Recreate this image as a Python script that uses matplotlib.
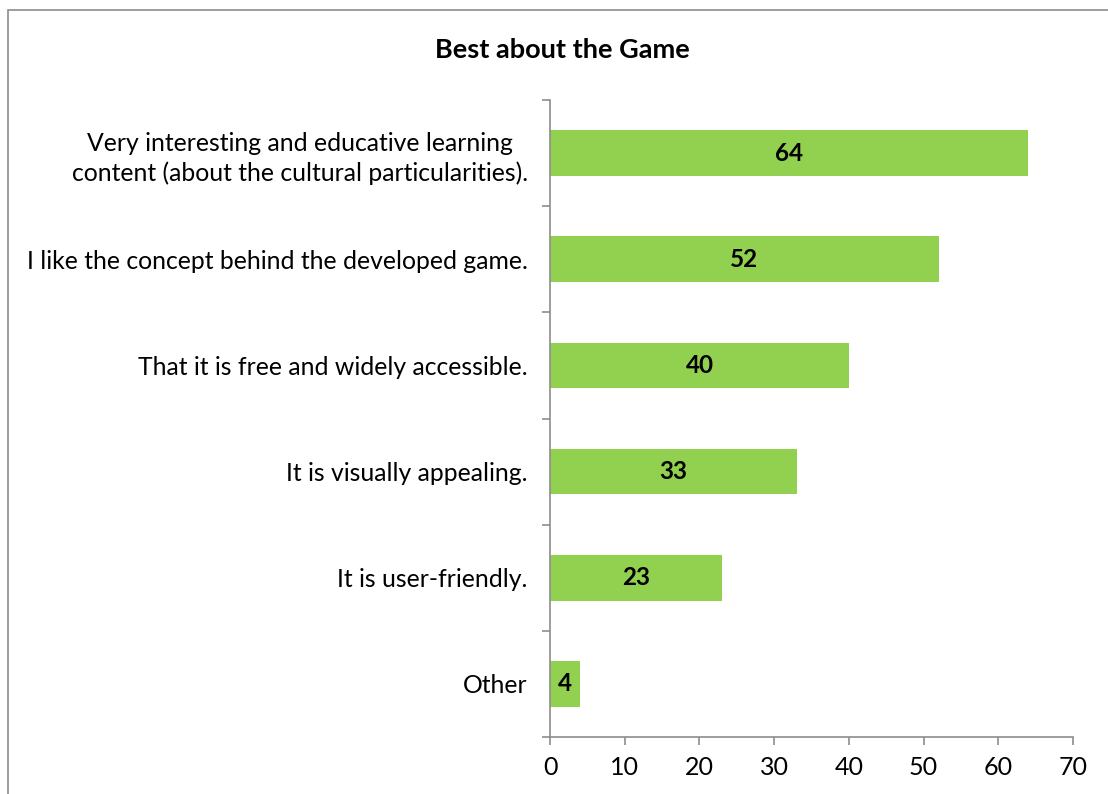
import numpy as np
import matplotlib.pyplot as plt
from matplotlib.patches import Rectangle

# Данные
categories = [
    'Very interesting and educative learning\ncontent (about the cultural particularities).',
    'I like the concept behind the developed game.',
    'That it is free and widely accessible.',
    'It is visually appealing.',
    'It is user-friendly.',
    'Other',
]
values = [64, 52, 40, 33, 23, 4]
x_ticks = [0, 10, 20, 30, 40, 50, 60, 70]

plt.rcParams['font.family'] = ['Lato', 'DejaVu Sans']

fig = plt.figure(figsize=(11.08, 7.94), dpi=100)
ax = fig.add_axes([550 / 1108, 1 - 737 / 794, 523 / 1108, 637 / 794])

# рамка вокруг графика
fig.patches.append(Rectangle((8 / 1108, -0.1), 1.2, 1 - 10 / 794 + 0.1,
                             transform=fig.transFigure, fill=False,
                             edgecolor='#8c8c8c', linewidth=1.2))

n = len(categories)
y = np.arange(n)[::-1]
ax.barh(y, values, height=0.43, color='#92D050')
for yi, v in zip(y, values):
    ax.text(v / 2, yi, str(v), ha='center', va='center',
            fontsize=17.5, fontweight='bold', color='black')

ax.set_xlim(0, 70)
ax.set_ylim(-0.5, n - 0.5)
ax.set_xticks(x_ticks)
ax.set_yticks(y)
ax.set_yticklabels(categories, fontsize=17.8, ha='right', multialignment='center',
                   linespacing=1.35)
ax.set_yticks(np.arange(-0.5, n), minor=True)
ax.tick_params(axis='y', which='major', length=0, pad=16)
ax.tick_params(axis='y', which='minor', length=6, color='#8c8c8c', width=1.2)
ax.tick_params(axis='x', labelsize=18, length=6, color='#8c8c8c', width=1.2, pad=8)

for s in ['top', 'right']:
    ax.spines[s].set_visible(False)
for s in ['left', 'bottom']:
    ax.spines[s].set_color('#8c8c8c')
    ax.spines[s].set_linewidth(1.2)

fig.text(562 / 1108, 1 - 50 / 794, 'Best about the Game', ha='center', va='center',
         fontsize=19.5, fontweight='bold')

fig.savefig('out.png', dpi=100)
